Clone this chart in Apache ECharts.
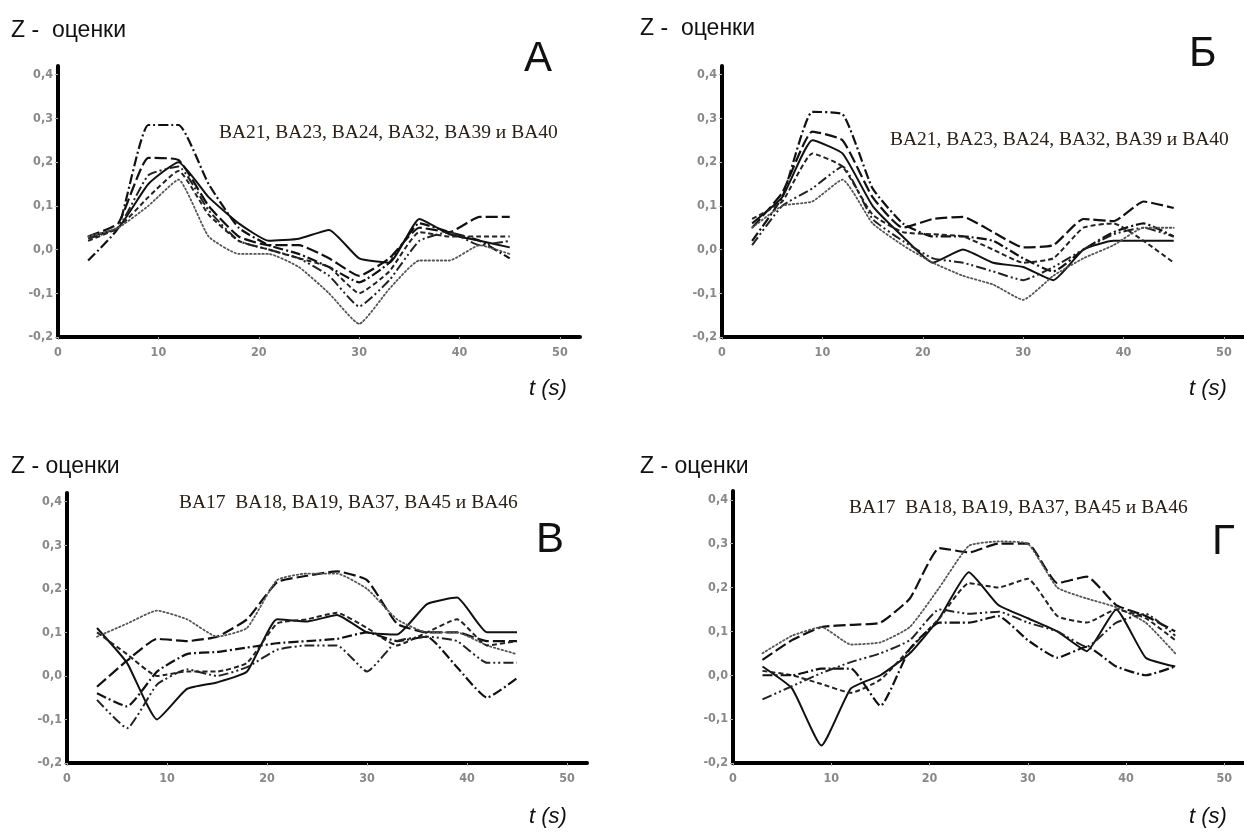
<!DOCTYPE html>
<html><head><meta charset="utf-8">
<script src="https://cdn.jsdelivr.net/npm/echarts@6/dist/echarts.min.js"></script>
<style>html,body{margin:0;padding:0;background:#fff}#c{width:1244px;height:837px}</style>
</head><body><div id="c"></div>
<script>
// time points (s)
const TIME = [3,6,9,12,15,18,21,24,27,30,33,36,39,42,45];
const X_TICKS = [0,10,20,30,40,50];
const Y_TICKS = [-0.2,-0.1,0.0,0.1,0.2,0.3,0.4];

// Panel А
const A_solid      = [0.03,0.05,0.15,0.20,0.12,0.06,0.02,0.025,0.045,-0.02,-0.03,0.07,0.035,0.02,0.005];
const A_dashDot    = [-0.025,0.05,0.285,0.285,0.15,0.05,0.01,-0.01,-0.04,-0.075,-0.03,0.06,0.04,0.02,-0.02];
const A_longDash   = [0.03,0.06,0.21,0.205,0.10,0.03,0.01,0.01,-0.02,-0.06,-0.02,0.05,0.04,0.075,0.075];
const A_dashDotDot = [0.025,0.05,0.17,0.19,0.09,0.02,0.0,-0.02,-0.06,-0.13,-0.07,0.02,0.04,0.01,0.02];
const A_shortDash  = [0.02,0.05,0.12,0.18,0.08,0.02,0.0,-0.02,-0.04,-0.10,-0.05,0.04,0.03,0.03,0.03];
const A_dotted     = [0.03,0.05,0.10,0.16,0.03,-0.01,-0.01,-0.04,-0.10,-0.17,-0.09,-0.025,-0.025,0.01,-0.01];

// Panel Б
const B_dashDot    = [0.02,0.12,0.315,0.31,0.14,0.06,0.03,0.03,0.02,-0.02,-0.05,0.0,0.04,0.06,0.03];
const B_longDash   = [0.05,0.13,0.27,0.25,0.12,0.05,0.07,0.075,0.04,0.005,0.01,0.07,0.065,0.11,0.095];
const B_solid      = [0.06,0.12,0.25,0.22,0.10,0.03,-0.03,0.0,-0.03,-0.04,-0.07,0.0,0.02,0.02,0.02];
const B_shortDash  = [0.07,0.11,0.22,0.19,0.08,0.04,0.035,0.03,0.0,-0.03,-0.02,0.05,0.06,0.02,-0.03];
const B_dashDotDot = [0.01,0.10,0.14,0.19,0.07,0.02,-0.02,-0.03,-0.05,-0.07,-0.04,0.0,0.035,0.05,0.03];
const B_dotted     = [0.05,0.10,0.11,0.16,0.06,0.01,-0.03,-0.06,-0.08,-0.115,-0.06,-0.02,0.01,0.05,0.05];

// Panel В
const V_solid      = [0.11,0.03,-0.10,-0.03,-0.015,0.01,0.13,0.125,0.14,0.10,0.095,0.165,0.18,0.10,0.10];
const V_longDash   = [-0.025,0.035,0.085,0.08,0.09,0.13,0.215,0.23,0.24,0.22,0.12,0.10,0.10,0.08,0.08];
const V_dotted     = [0.09,0.12,0.15,0.13,0.09,0.11,0.22,0.235,0.235,0.20,0.13,0.10,0.10,0.07,0.05];
const V_shortDash  = [0.10,0.05,0.0,0.01,0.01,0.03,0.12,0.13,0.145,0.11,0.07,0.10,0.13,0.07,0.08];
const V_dashDot    = [-0.04,-0.07,0.01,0.05,0.055,0.065,0.075,0.08,0.085,0.10,0.08,0.09,0.02,-0.05,-0.005];
const V_dashDotDot = [-0.055,-0.12,-0.02,0.015,0.0,0.02,0.06,0.07,0.07,0.01,0.08,0.09,0.08,0.03,0.03];

// Panel Г
const G_solid      = [0.02,-0.03,-0.16,-0.03,0.0,0.05,0.13,0.235,0.16,0.13,0.10,0.055,0.15,0.04,0.02];
const G_longDash   = [0.035,0.08,0.11,0.115,0.12,0.175,0.29,0.28,0.30,0.30,0.21,0.225,0.16,0.135,0.10];
const G_dotted     = [0.05,0.09,0.11,0.07,0.075,0.11,0.20,0.295,0.305,0.30,0.20,0.175,0.155,0.12,0.05];
const G_shortDash  = [0.01,0.0,-0.02,-0.04,-0.01,0.06,0.13,0.21,0.20,0.22,0.135,0.12,0.15,0.13,0.08];
const G_dashDot    = [0.0,0.0,0.015,0.015,-0.07,0.06,0.12,0.12,0.135,0.08,0.04,0.065,0.02,0.0,0.02];
const G_dashDotDot = [-0.055,-0.025,0.005,0.03,0.05,0.08,0.15,0.14,0.145,0.12,0.10,0.065,0.12,0.14,0.09];

const STYLES = {
  solid:      {type:'solid', color:'#111', width:2},
  longDash:   {type:[12,4], color:'#111', width:2.2},
  shortDash:  {type:[5,3], color:'#222', width:2},
  dotted:     {type:[1.5,2.5], color:'#555', width:1.8, cap:'round'},
  dashDot:    {type:[10,3,2,3], color:'#111', width:2.2},
  dashDotDot: {type:[10,3,2,3,2,3], color:'#222', width:2}
};

const panels = [
  {grid:{left:58,top:66,width:522,height:271}, xMax:52,
   series:[['solid',A_solid],['dashDot',A_dashDot],['longDash',A_longDash],['dashDotDot',A_dashDotDot],['shortDash',A_shortDash],['dotted',A_dotted]]},
  {grid:{left:722,top:66,width:522,height:271}, xMax:52,
   series:[['dashDot',B_dashDot],['longDash',B_longDash],['solid',B_solid],['shortDash',B_shortDash],['dashDotDot',B_dashDotDot],['dotted',B_dotted]]},
  {grid:{left:67,top:493,width:520,height:270}, xMax:52,
   series:[['solid',V_solid],['longDash',V_longDash],['dotted',V_dotted],['shortDash',V_shortDash],['dashDot',V_dashDot],['dashDotDot',V_dashDotDot]]},
  {grid:{left:733,top:491,width:517,height:272}, xMax:52,
   series:[['solid',G_solid],['longDash',G_longDash],['dotted',G_dotted],['shortDash',G_shortDash],['dashDot',G_dashDot],['dashDotDot',G_dashDotDot]]}
];

const labelStyle = {color:'#888', fontSize:12.5, fontWeight:'bold', fontFamily:'DejaVu Sans Condensed'};
const grids=[], xAxes=[], yAxes=[], series=[];
panels.forEach((p,i)=>{
  grids.push(p.grid);
  xAxes.push({type:'value', gridIndex:i, min:0, max:p.xMax, interval:10,
    axisLine:{show:true, onZero:false, lineStyle:{color:'#000', width:4}},
    axisTick:{show:true, length:3, lineStyle:{color:'#aaa', width:1}},
    splitLine:{show:false},
    axisLabel:Object.assign({show:true, showMaxLabel:false, margin:9,
      formatter:v=>X_TICKS.includes(v)?String(v):''}, labelStyle)});
  yAxes.push({type:'value', gridIndex:i, min:-0.2, max:0.42, interval:0.1,
    axisLine:{show:true, onZero:false, lineStyle:{color:'#000', width:4}},
    axisTick:{show:true, length:3, lineStyle:{color:'#aaa', width:1}},
    splitLine:{show:false},
    axisLabel:Object.assign({show:true, showMaxLabel:false, margin:5,
      formatter:v=>{const r=Math.round(v*10)/10; return Y_TICKS.some(t=>Math.abs(t-v)<1e-6)? r.toFixed(1).replace('.',','):'';}}, labelStyle)});
  p.series.forEach(([st,data])=>{
    series.push({type:'line', xAxisIndex:i, yAxisIndex:i, symbol:'none', smooth:0.15,
      lineStyle:Object.assign({},STYLES[st]), data:TIME.map((t,k)=>[t,data[k]]), silent:true, z:3});
  });
});

const txt = (text,left,top,style)=>({text, left, top, padding:0, textStyle:Object.assign({color:'#111', fontFamily:'Liberation Sans', fontWeight:'normal'},style)});
const zStyle={fontSize:23};
const letStyle={fontSize:42};
const tStyle={fontSize:22, fontStyle:'italic'};
const annStyle={fontSize:19.5, fontFamily:'Liberation Serif', color:'#2a2018'};

const titles=[
  txt('Z -  оценки',11,19,zStyle),
  txt('Z -  оценки',640,17,zStyle),
  txt('Z - оценки',11,455,zStyle),
  txt('Z - оценки',640,455,zStyle),
  txt('А',524,38,letStyle),
  txt('Б',1189,33,letStyle),
  txt('В',536,519,letStyle),
  txt('Г',1212,521,letStyle),
  txt('t (s)',529,378,tStyle),
  txt('t (s)',1189,378,tStyle),
  txt('t (s)',529,806,tStyle),
  txt('t (s)',1189,806,tStyle),
  txt('BA21, BA23, BA24, BA32, BA39 и BA40',219,123,annStyle),
  txt('BA21, BA23, BA24, BA32, BA39 и BA40',890,130,annStyle),
  txt('BA17  BA18, BA19, BA37, BA45 и BA46',179,493,annStyle),
  txt('BA17  BA18, BA19, BA37, BA45 и BA46',849,498,annStyle)
];

const chart = echarts.init(document.getElementById('c'), null, {renderer:'canvas'});
chart.setOption({animation:false, backgroundColor:'#fff', title:titles, grid:grids, xAxis:xAxes, yAxis:yAxes, series});
</script></body></html>
